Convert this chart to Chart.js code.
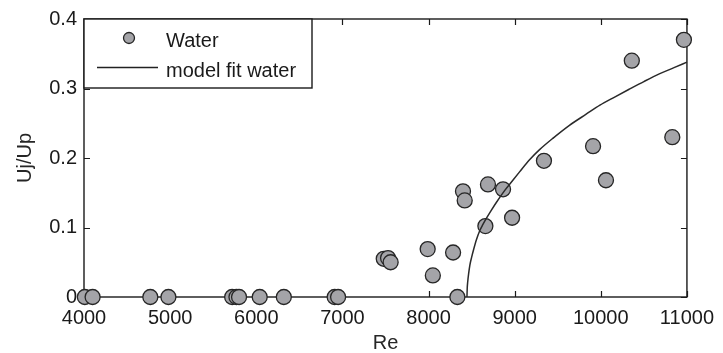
<!DOCTYPE html>
<html>
<head>
<meta charset="utf-8">
<script src="https://cdn.jsdelivr.net/npm/chart.js@4/dist/chart.umd.min.js"></script>
<style>
  html, body { margin: 0; padding: 0; background: #fff; }
  #wrap { width: 723px; height: 353px; }
</style>
</head>
<body>
<div id="wrap"><canvas id="c" width="723" height="353"></canvas></div>
<script>
// Measured jet/pipe velocity ratio against Reynolds number (water)
const waterRe = [4010, 4100, 4770, 4980, 5720, 5770, 5800, 6040, 6320, 6910, 6950,
  7480, 7530, 7560, 7990, 8050, 8285, 8335, 8400, 8420, 8660, 8690, 8865, 8970,
  9340, 9910, 10060, 10360, 10830, 10965];
const waterUjUp = [0, 0, 0, 0, 0, 0, 0, 0, 0, 0, 0,
  0.055, 0.056, 0.050, 0.069, 0.031, 0.064, 0, 0.152, 0.139, 0.102, 0.162, 0.155, 0.114,
  0.196, 0.217, 0.168, 0.340, 0.230, 0.370];

// Model fit curve
const fitRe = [8446, 8449, 8455, 8466, 8480, 8500, 8525, 8555, 8593, 8630, 8671, 8730,
  8787, 8883, 8979, 9057, 9170, 9289, 9450, 9636, 9830, 9990, 10150, 10331, 10500,
  10679, 10850, 11000];
const fitUjUp = [0, 0.012, 0.022, 0.034, 0.046, 0.057, 0.069, 0.082, 0.095, 0.104, 0.113, 0.125,
  0.136, 0.153, 0.168, 0.180, 0.197, 0.212, 0.229, 0.247, 0.263, 0.276, 0.287, 0.299, 0.310,
  0.321, 0.330, 0.338];

const xTicks = [4000, 5000, 6000, 7000, 8000, 9000, 10000, 11000];
const yTicks = [0, 0.1, 0.2, 0.3, 0.4];
const yTickLabels = ['0', '0.1', '0.2', '0.3', '0.4'];

const legendItems = ['Water', 'model fit water'];

const FONT = '"Liberation Sans", Arial, sans-serif';
const INK = '#1a1a1a';
const MARKER_FILL = '#a4a4a8';
const MARKER_EDGE = '#262626';

const toPoints = (xs, ys) => xs.map((x, i) => ({ x, y: ys[i] }));

// Box around the axes with inward tick marks on all four sides
const framePlugin = {
  id: 'frame',
  beforeDatasetsDraw(chart) {
    const { ctx, chartArea: a, scales } = chart;
    const len = 6;
    ctx.save();
    ctx.strokeStyle = INK;
    ctx.lineWidth = 1.4;
    ctx.strokeRect(a.left, a.top, a.right - a.left, a.bottom - a.top);
    ctx.lineWidth = 1.2;
    ctx.beginPath();
    scales.x.ticks.forEach(t => {
      const px = Math.round(scales.x.getPixelForValue(t.value)) + 0.5;
      ctx.moveTo(px, a.bottom); ctx.lineTo(px, a.bottom - len);
      ctx.moveTo(px, a.top); ctx.lineTo(px, a.top + len);
    });
    scales.y.ticks.forEach(t => {
      const py = Math.round(scales.y.getPixelForValue(t.value)) + 0.5;
      ctx.moveTo(a.left, py); ctx.lineTo(a.left + len, py);
      ctx.moveTo(a.right, py); ctx.lineTo(a.right - len, py);
    });
    ctx.stroke();
    ctx.restore();
  }
};

// Boxed legend in the upper-left corner of the axes
const boxLegendPlugin = {
  id: 'boxLegend',
  afterDraw(chart) {
    const { ctx, chartArea: a } = chart;
    const x0 = a.left, y0 = a.top, w = 228, h = 69;
    ctx.save();
    ctx.fillStyle = '#fff';
    ctx.fillRect(x0, y0, w, h);
    ctx.strokeStyle = INK;
    ctx.lineWidth = 1.4;
    ctx.strokeRect(x0, y0, w, h);

    // marker entry
    ctx.beginPath();
    ctx.arc(x0 + 45, y0 + 19, 5.5, 0, Math.PI * 2);
    ctx.fillStyle = MARKER_FILL;
    ctx.fill();
    ctx.lineWidth = 1.3;
    ctx.strokeStyle = MARKER_EDGE;
    ctx.stroke();

    // line entry
    ctx.beginPath();
    ctx.moveTo(x0 + 13, y0 + 48.5);
    ctx.lineTo(x0 + 74, y0 + 48.5);
    ctx.lineWidth = 1.5;
    ctx.strokeStyle = '#222';
    ctx.stroke();

    ctx.fillStyle = INK;
    ctx.font = '20px ' + FONT;
    ctx.textBaseline = 'alphabetic';
    ctx.textAlign = 'left';
    ctx.fillText(legendItems[0], x0 + 82, y0 + 28);
    ctx.fillText(legendItems[1], x0 + 82, y0 + 58);
    ctx.restore();
  }
};

new Chart(document.getElementById('c'), {
  data: {
    datasets: [
      {
        type: 'line',
        label: legendItems[1],
        data: toPoints(fitRe, fitUjUp),
        borderColor: '#2a2a2a',
        borderWidth: 1.5,
        pointRadius: 0,
        fill: false,
        cubicInterpolationMode: 'monotone',
        order: 0,
        clip: false
      },
      {
        type: 'scatter',
        label: legendItems[0],
        data: toPoints(waterRe, waterUjUp),
        pointRadius: 7.5,
        pointBackgroundColor: MARKER_FILL,
        pointBorderColor: MARKER_EDGE,
        pointBorderWidth: 1.3,
        order: 1,
        clip: false
      }
    ]
  },
  options: {
    responsive: false,
    animation: false,
    devicePixelRatio: 1,
    layout: { padding: { left: 0, right: 35, top: 17, bottom: 0 } },
    plugins: { legend: { display: false }, tooltip: { enabled: false } },
    scales: {
      x: {
        type: 'linear',
        min: 4000,
        max: 11000,
        afterBuildTicks: s => { s.ticks = xTicks.map(v => ({ value: v })); },
        afterFit: s => { s.height = 56; },
        grid: { display: false, drawTicks: false },
        border: { display: false },
        ticks: {
          padding: 9,
          color: INK,
          font: { family: FONT, size: 20 },
          callback: v => String(v)
        },
        title: {
          display: true,
          text: 'Re',
          color: '#262626',
          font: { family: FONT, size: 20, lineHeight: 1 },
          padding: { top: 0, bottom: 0 }
        }
      },
      y: {
        type: 'linear',
        min: 0,
        max: 0.4,
        afterBuildTicks: s => { s.ticks = yTicks.map(v => ({ value: v })); },
        afterFit: s => { s.width = 84; },
        grid: { display: false, drawTicks: false },
        border: { display: false },
        ticks: {
          padding: 7,
          color: INK,
          font: { family: FONT, size: 20 },
          callback: v => yTickLabels[yTicks.indexOf(v)] ?? String(v)
        },
        title: {
          display: true,
          text: 'Uj/Up',
          color: '#262626',
          font: { family: FONT, size: 20, lineHeight: 1 },
          padding: { top: 15, bottom: 0 }
        }
      }
    }
  },
  plugins: [framePlugin, boxLegendPlugin]
});
</script>
</body>
</html>
